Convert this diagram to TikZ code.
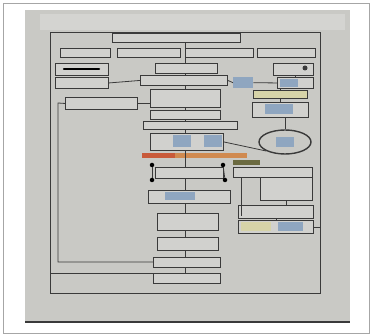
\documentclass[tikz,border=0pt]{standalone}
\usetikzlibrary{shapes.geometric}
\definecolor{paper}{HTML}{C9C9C5}
\definecolor{ink}{HTML}{3A3A3A}
\definecolor{cellblue}{HTML}{8FA6C0}
\definecolor{cellyel}{HTML}{D6D3A8}
\definecolor{barred}{HTML}{C85A3A}
\definecolor{barorg}{HTML}{D08A50}
\definecolor{bargrn}{HTML}{6B6A40}
\tikzset{
  box/.style={draw=ink, line width=0.9pt, fill=paper!85!white, anchor=north west, inner sep=0pt},
  cell/.style={fill=cellblue, anchor=north west, inner sep=0pt, draw=none},
  ycell/.style={fill=cellyel, anchor=north west, inner sep=0pt, draw=none},
  dot/.style={circle, fill=black, inner sep=0pt, minimum size=4.5pt},
  link/.style={draw=ink, line width=0.8pt}
}
\newcommand{\bx}[5][box]{\node[#1, minimum width=#4pt, minimum height=#5pt] (#2) at (#3) {};}
\begin{document}
\begin{tikzpicture}[x=1pt,y=-1pt]
\useasboundingbox (0,0) rectangle (372,336);
\fill[white] (0,0) rectangle (372,336);
\draw[gray!70, line width=0.8pt] (3,3) rectangle (369,333);
% photo / paper
\fill[paper] (25,10) rectangle (350,322);
\fill[paper!80!white] (40,14) rectangle (345,30);
\draw[ink, line width=1.4pt] (25,322) -- (350,322);
% outer frame of chart
\node[draw=ink, line width=1pt, anchor=north west, minimum width=270pt, minimum height=261pt, inner sep=0pt] (frame) at (50,32) {};
% title
\bx{title}{112,33}{128}{9}
% top row
\bx{t1}{60,48}{50}{9}
\bx{t2}{117,48}{63}{9}
\bx{t3}{185,48}{68}{9}
\bx{t4}{257,48}{58}{9}
% left column
\bx{l1}{55,63}{53}{12}
\draw[black, line width=2.5pt, line cap=round] (64,69) -- (99,69);
\bx{l2}{55,77}{53}{11}
\bx{l3}{65,97}{72}{12}
% centre column
\bx{c1}{155,63}{62}{10}
\bx{c2}{140,75}{87}{10}
\bx{c3}{150,89}{70}{18}
\bx{c4}{150,110}{70}{9}
\bx{c5}{143,121}{94}{8}
\bx{c6}{150,133}{73}{17}
\node[cell, minimum width=18pt, minimum height=12pt] (c6a) at (173,135) {};
\node[cell, minimum width=18pt, minimum height=12pt] (c6b) at (204,135) {};
\fill[barred] (142,153) rectangle (175,158);
\fill[barorg] (175,153) rectangle (247,158);
\fill[bargrn] (233,160) rectangle (260,165);
\bx{c7}{155,167}{68}{11}
\node[dot] (d1) at (152,165) {};
\node[dot] (d2) at (223,165) {};
\node[dot] (d3) at (152,180) {};
\node[dot] (d4) at (225,180) {};
\bx{c8}{148,190}{82}{13}
\node[cell, minimum width=30pt, minimum height=8pt] (c8a) at (165,192) {};
\bx{c9}{157,213}{61}{17}
\bx{c10}{157,237}{61}{13}
\bx{c11}{153,257}{67}{10}
\bx{c12}{153,273}{67}{10}
% right column
\bx{r1}{273,63}{40}{12}
\node[circle, fill=ink, minimum size=5pt, inner sep=0pt] (r1d) at (305,68) {};
\node[cell, minimum width=20pt, minimum height=11pt] (r2) at (233,77) {};
\bx{r3}{277,77}{36}{11}
\node[cell, minimum width=18pt, minimum height=8pt] (r3a) at (280,79) {};
\node[ycell, minimum width=54pt, minimum height=8pt, draw=ink, line width=0.8pt] (r4) at (253,90) {};
\bx{r5}{252,102}{56}{15}
\node[cell, minimum width=28pt, minimum height=10pt] (r5a) at (265,104) {};
\node[ellipse, draw=ink, line width=1.4pt, minimum width=52pt, minimum height=24pt, fill=paper] (el) at (285,142) {};
\node[cell, minimum width=18pt, minimum height=10pt] (ela) at (276,137) {};
\bx{r6}{233,167}{79}{10}
\bx{r7}{260,177}{52}{23}
\bx{r8}{238,205}{75}{13}
\bx{r9}{238,220}{75}{13}
\node[ycell, minimum width=30pt, minimum height=9pt] (r9a) at (241,222) {};
\node[cell, minimum width=25pt, minimum height=9pt] (r9b) at (278,222) {};
% connectors (centre spine at x = 185)
\coordinate (sp) at (185,0);
\draw[link] (sp |- title.south) -- (sp |- c1.north);
\draw[link] (sp |- c1.south) -- (sp |- c2.north);
\draw[link] (sp |- c2.south) -- (sp |- c3.north);
\draw[link] (sp |- c3.south) -- (sp |- c4.north);
\draw[link] (sp |- c4.south) -- (sp |- c5.north);
\draw[link] (sp |- c5.south) -- (sp |- c6.north);
\draw[link] (sp |- c6.south) -- (sp |- c7.north);
\draw[link] (sp |- c7.south) -- (sp |- c8.north);
\draw[link] (sp |- c8.south) -- (sp |- c9.north);
\draw[link] (sp |- c9.south) -- (sp |- c10.north);
\draw[link] (sp |- c10.south) -- (sp |- c11.north);
\draw[link] (sp |- c11.south) -- (sp |- c12.north);
\draw[link] (d1) -- (d3);
\draw[link] (d2) -- (d4);
\draw[link] (l2.east) -- (c2.west);
\draw[link] (l3.east) -- ++(12,0) |- (c3.west);
\draw[link] (c2.east) -- (r2.west);
\draw[link] (r2.east) -- (r3.west);
\draw[link] (r1.south -| r3.north) -- (r3.north);
\draw[link] (r3.south -| r4.north) -- (r4.north);
\draw[link] (r4.south) -- (r5.north);
\draw[link] (r5.south -| el.north) -- (el.north);
\draw[link] (el.south west) -- (c6.east);
\draw[link] (r6.south) -- (r6.south |- r7.north);
\draw[link] (r6.south west) ++(8,0) -- ++(0,38);
\draw[link] (r7.south) -- (r7.south |- r8.north);
\draw[link] (r8.south) -- (r9.north);
\coordinate (lp) at (58,103);
\coordinate (lb) at (58,262);
\draw[link] (l3.west) -- (lp) -- (lb) -- (lb -| c11.west);
\draw[link] (frame.west |- c12.north) -- (c12.north west);
\draw[link] (r9.east) -- (r9.east -| frame.east);
\end{tikzpicture}
\end{document}
